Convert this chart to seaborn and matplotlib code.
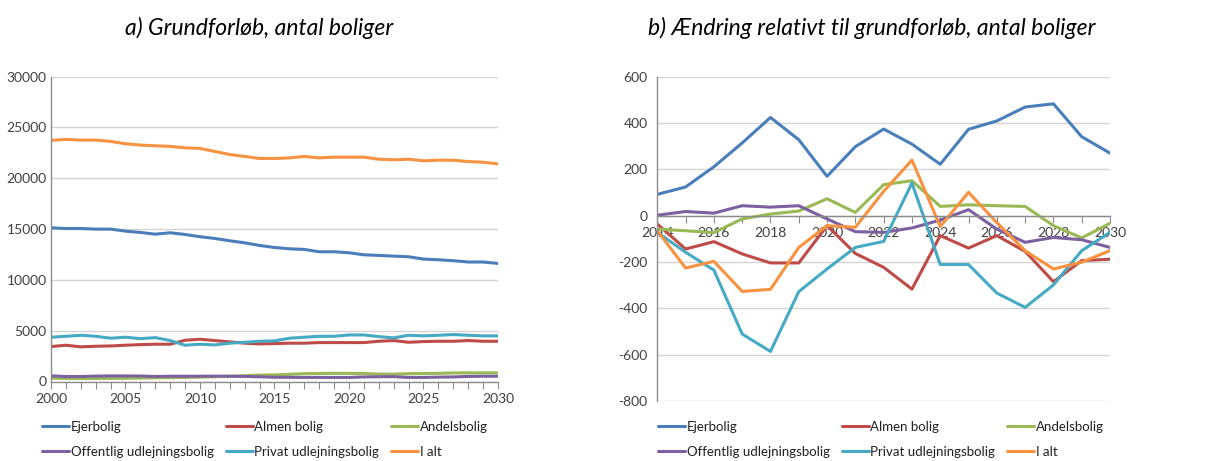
import numpy as np
import pandas as pd
import matplotlib
matplotlib.use("Agg")
import matplotlib.pyplot as plt
import seaborn as sns

# ---- data -------------------------------------------------------------
series_names = ["Ejerbolig", "Almen bolig", "Andelsbolig",
                "Offentlig udlejningsbolig", "Privat udlejningsbolig", "I alt"]
series_colors = ["#4A7EBB", "#BE4B48", "#98B954", "#7D60A0", "#46AAC5", "#F69240"]

years_a = list(range(2000, 2031))
ejer_a = [15130, 15060, 15060, 15000, 15000, 14800, 14670, 14500, 14640, 14470,
          14250, 14080, 13850, 13650, 13390, 13190, 13060, 13000, 12770, 12770,
          12670, 12470, 12410, 12340, 12280, 12050, 11980, 11890, 11760, 11760, 11620]
almen_a = [3440, 3570, 3410, 3470, 3500, 3570, 3630, 3670, 3670, 4060,
           4160, 4030, 3900, 3770, 3700, 3730, 3770, 3770, 3830, 3830,
           3830, 3830, 3960, 4030, 3860, 3930, 3960, 3960, 4030, 3960, 3960]
andel_a = [330, 300, 290, 300, 310, 320, 340, 360, 380, 400,
           430, 470, 510, 570, 630, 650, 710, 770, 790, 800,
           800, 790, 730, 720, 770, 790, 800, 840, 850, 850, 850]
offentlig_a = [560, 490, 490, 530, 550, 550, 540, 490, 520, 520,
               520, 530, 520, 500, 460, 420, 410, 400, 400, 400,
               400, 450, 470, 480, 400, 400, 430, 450, 500, 520, 520]
privat_a = [4360, 4450, 4550, 4450, 4260, 4360, 4220, 4320, 4030, 3570,
            3670, 3600, 3770, 3860, 3960, 4000, 4260, 4360, 4450, 4450,
            4580, 4580, 4420, 4290, 4550, 4490, 4550, 4620, 4550, 4490, 4490]
ialt_a = [23730, 23830, 23760, 23760, 23630, 23400, 23270, 23200, 23140, 23000,
          22940, 22640, 22340, 22150, 21950, 21950, 22010, 22150, 22010, 22080,
          22080, 22080, 21880, 21820, 21880, 21720, 21780, 21780, 21650, 21580, 21420]

years_b = list(range(2014, 2031))
ejer_b = [92, 124, 211, 314, 424, 328, 170, 298, 374, 309, 222, 373, 409, 469, 483, 341, 270]
almen_b = [-36, -144, -112, -165, -204, -204, -43, -163, -223, -317, -86, -140, -86, -154, -285, -194, -188]
andel_b = [-58, -65, -73, -14, 7, 20, 73, 14, 134, 151, 40, 47, 43, 40, -43, -96, -33]
offentlig_b = [2, 18, 11, 43, 37, 43, -14, -69, -72, -53, -19, 26, -58, -115, -94, -104, -137]
privat_b = [-72, -158, -235, -511, -586, -328, -230, -137, -111, 141, -211, -211, -334, -396, -299, -151, -72]
ialt_b = [-65, -226, -197, -327, -318, -137, -43, -50, 105, 240, -47, 101, -30, -151, -230, -201, -151]

title_a = "a) Grundforløb, antal boliger"
title_b = "b) Ændring relativt til grundforløb, antal boliger"


def long_frame(years, columns):
    parts = [pd.DataFrame({"År": years, "Værdi": vals, "Boligtype": name})
             for name, vals in zip(series_names, columns)]
    return pd.concat(parts, ignore_index=True)


df_a = long_frame(years_a, [ejer_a, almen_a, andel_a, offentlig_a, privat_a, ialt_a])
df_b = long_frame(years_b, [ejer_b, almen_b, andel_b, offentlig_b, privat_b, ialt_b])

# ---- style ------------------------------------------------------------
sns.set_theme(style="white")
plt.rcParams["font.family"] = ["Lato", "DejaVu Sans"]
plt.rcParams["axes.unicode_minus"] = False

W, H = 1205, 461
fig = plt.figure(figsize=(W / 100, H / 100), dpi=100)
palette = dict(zip(series_names, series_colors))

grid_kw = dict(color="#D4D4D4", linewidth=1.0)
tick_color = "#404040"


def px_rect(x0, y_top, x1, y_bottom):
    return [x0 / W, 1 - y_bottom / H, (x1 - x0) / W, (y_bottom - y_top) / H]


def add_legend(ax, x_px, y_px):
    handles, labels = ax.get_legend_handles_labels()
    if ax.get_legend() is not None:
        ax.get_legend().remove()
    # row-wise reading order in a column-filled legend
    order = [0, 3, 1, 4, 2, 5]
    leg = fig.legend([handles[i] for i in order], [labels[i] for i in order],
                     loc="upper left", bbox_to_anchor=(x_px / W, 1 - y_px / H),
                     bbox_transform=fig.transFigure, ncol=3, frameon=False,
                     fontsize=9.5, handlelength=2.05, handletextpad=0.12,
                     columnspacing=0.9, labelspacing=0.95, borderpad=0,
                     borderaxespad=0)
    for line in leg.get_lines():
        line.set_linewidth(2.2)
    for t in leg.get_texts():
        t.set_color("#202020")


# ---- panel a ------------------------------------------------------------
ax1 = fig.add_axes(px_rect(51, 76.7, 498, 381.5))
sns.lineplot(data=df_a, x="År", y="Værdi", hue="Boligtype", hue_order=series_names,
             palette=palette, linewidth=2.2, ax=ax1)
ax1.set_xlim(2000, 2030)
ax1.set_ylim(0, 30000)
ax1.set_yticks(np.arange(0, 30001, 5000))
ax1.set_xticks(np.arange(2000, 2031, 5))
ax1.set_xticks(np.arange(2000, 2031, 1), minor=True)
ax1.yaxis.grid(True, **grid_kw)
ax1.set_axisbelow(True)
ax1.set_xlabel("")
ax1.set_ylabel("")
for side in ["top", "right"]:
    ax1.spines[side].set_visible(False)
for side in ["left", "bottom"]:
    ax1.spines[side].set_color("#8C8C8C")
    ax1.spines[side].set_linewidth(1.0)
ax1.tick_params(axis="y", length=0, pad=3, labelsize=10, labelcolor=tick_color)
ax1.tick_params(axis="x", which="both", direction="out", length=5, width=0.8,
                color="#8C8C8C", pad=3, labelsize=10, labelcolor=tick_color,
                bottom=True)
add_legend(ax1, 42, 421)

# ---- panel b ------------------------------------------------------------
ax2 = fig.add_axes(px_rect(657.3, 76.7, 1110, 401))
sns.lineplot(data=df_b, x="År", y="Værdi", hue="Boligtype", hue_order=series_names,
             palette=palette, linewidth=2.2, ax=ax2)
ax2.set_xlim(2014, 2030)
ax2.set_ylim(-800, 600)
ax2.set_yticks(np.arange(-800, 601, 200))
ax2.set_xticks(years_b)
ax2.set_xticklabels([str(y) if y % 2 == 0 else "" for y in years_b])
ax2.yaxis.grid(True, **grid_kw)
ax2.set_axisbelow(True)
ax2.set_xlabel("")
ax2.set_ylabel("")
ax2.spines["bottom"].set_position(("data", 0))
for side in ["top", "right"]:
    ax2.spines[side].set_visible(False)
for side in ["left", "bottom"]:
    ax2.spines[side].set_color("#8C8C8C")
    ax2.spines[side].set_linewidth(1.0)
ax2.tick_params(axis="y", length=0, pad=7, labelsize=10, labelcolor=tick_color)
ax2.tick_params(axis="x", direction="out", length=5, width=0.8, color="#8C8C8C",
                pad=3, labelsize=10, labelcolor=tick_color, bottom=True)
add_legend(ax2, 658, 421)

# ---- titles -------------------------------------------------------------
fig.text(259 / W, 1 - 28 / H, title_a, ha="center", va="center",
         fontsize=16.5, style="italic", color="black")
fig.text(872 / W, 1 - 28 / H, title_b, ha="center", va="center",
         fontsize=16.5, style="italic", color="black")

fig.savefig("out.png", dpi=100, facecolor="white")
